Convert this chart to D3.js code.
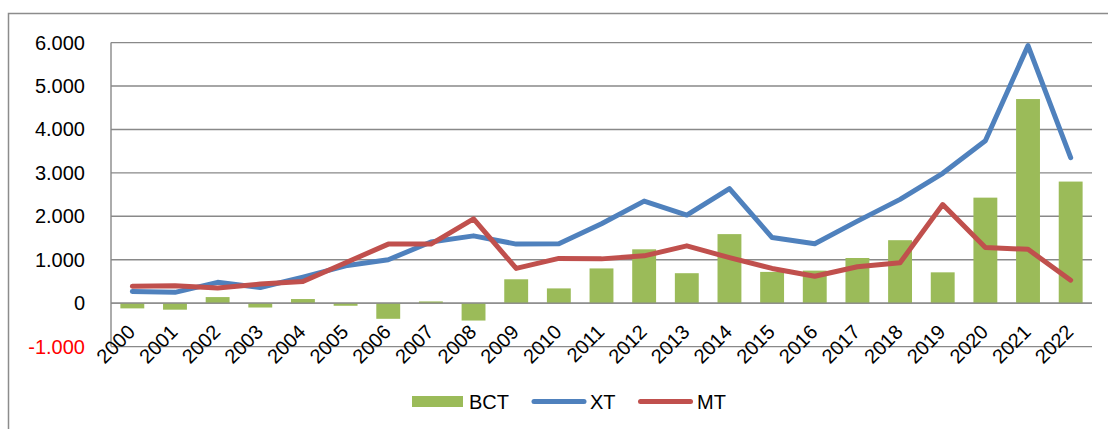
<!DOCTYPE html>
<html>
<head>
<meta charset="utf-8">
<script src="https://cdn.jsdelivr.net/npm/d3@7"></script>
<style>
  html, body { margin: 0; padding: 0; background: #fff; }
  svg { display: block; font-family: "Liberation Sans", Arial, sans-serif; }
</style>
</head>
<body>
<svg id="chart" width="1108" height="429"></svg>
<script>
const years = ["2000","2001","2002","2003","2004","2005","2006","2007","2008","2009","2010","2011","2012","2013","2014","2015","2016","2017","2018","2019","2020","2021","2022"];
const BCT = [-120,-150,140,-100,95,-60,-360,40,-400,550,340,800,1240,690,1590,720,750,1040,1450,710,2430,4700,2800];
const XT = [270,250,480,360,600,860,1000,1410,1550,1360,1370,1830,2350,2030,2640,1510,1370,1890,2390,2990,3740,5930,3350];
const MT = [390,400,350,440,500,930,1360,1360,1940,800,1030,1020,1090,1320,1050,800,620,840,930,2270,1280,1240,530];
const yTicks = [-1000,0,1000,2000,3000,4000,5000,6000];
const seriesNames = ["BCT","XT","MT"];
const colors = { BCT: "#9BBB59", XT: "#4F81BD", MT: "#C0504D" };

(function () {
const svg = d3.select("#chart");
const pLeft = 111, pRight = 1092, pTop = 42.6, pBottom = 346.6;

// outer chart border (right/bottom edges run off the picture)
svg.append("rect").attr("x", 8.5).attr("y", 13.5).attr("width", 1130).attr("height", 440)
  .attr("fill", "none").attr("stroke", "#8c8c8c").attr("stroke-width", 1.5);

const x = d3.scaleBand().domain(years).range([pLeft, pRight]).paddingInner(0.44).paddingOuter(0.22);
const cx = d => x(d) + x.bandwidth() / 2;
const y = d3.scaleLinear().domain([-1000, 6000]).range([pBottom, pTop]);

const loc = d3.formatLocale({ decimal: ",", thousands: ".", grouping: [3], currency: ["", ""], minus: "-" });
const fmt = loc.format(",d");

// gridlines
svg.append("g").selectAll("line").data(yTicks).join("line")
  .attr("x1", pLeft).attr("x2", pRight)
  .attr("y1", d => y(d)).attr("y2", d => y(d))
  .attr("stroke", "#898989").attr("stroke-width", 1.4);

// y-axis line
svg.append("line").attr("x1", pLeft).attr("x2", pLeft).attr("y1", y(6000)).attr("y2", y(-1000))
  .attr("stroke", "#898989").attr("stroke-width", 1.4);

// y labels
svg.append("g").selectAll("text").data(yTicks).join("text")
  .attr("x", 85).attr("y", d => y(d)).attr("dy", "0.35em")
  .attr("text-anchor", "end").attr("font-size", 20)
  .attr("fill", d => d < 0 ? "#FF0000" : "#000")
  .text(d => fmt(d));

// bars
svg.append("g").selectAll("rect").data(years).join("rect")
  .attr("x", d => x(d)).attr("width", x.bandwidth())
  .attr("y", (d, i) => y(Math.max(0, BCT[i])))
  .attr("height", (d, i) => Math.abs(y(BCT[i]) - y(0)))
  .attr("fill", colors.BCT);

// zero line on top of bars
svg.append("line").attr("x1", pLeft).attr("x2", pRight).attr("y1", y(0)).attr("y2", y(0))
  .attr("stroke", "#898989").attr("stroke-width", 1.4);

// lines
const line = d3.line().x((d, i) => cx(years[i])).y(d => y(d));
[["XT", XT], ["MT", MT]].forEach(([name, vals]) => {
  svg.append("path").datum(vals).attr("d", line)
    .attr("fill", "none").attr("stroke", colors[name]).attr("stroke-width", 5)
    .attr("stroke-linejoin", "round").attr("stroke-linecap", "round");
});

// x labels
svg.append("g").selectAll("text").data(years).join("text")
  .attr("transform", d => `translate(${cx(d) + 4},${y(0) + 30}) rotate(-45)`)
  .attr("text-anchor", "end").attr("font-size", 20).attr("fill", "#000")
  .text(d => d);

// legend
const lg = svg.append("g");
lg.append("rect").attr("x", 412).attr("y", 396).attr("width", 51).attr("height", 11).attr("fill", colors.BCT);
lg.append("text").attr("x", 469).attr("y", 409).attr("font-size", 20).text(seriesNames[0]);
lg.append("line").attr("x1", 534).attr("x2", 584).attr("y1", 401.5).attr("y2", 401.5)
  .attr("stroke", colors.XT).attr("stroke-width", 5).attr("stroke-linecap", "round");
lg.append("text").attr("x", 590).attr("y", 409).attr("font-size", 20).text(seriesNames[1]);
lg.append("line").attr("x1", 640.5).attr("x2", 690.5).attr("y1", 401.5).attr("y2", 401.5)
  .attr("stroke", colors.MT).attr("stroke-width", 5).attr("stroke-linecap", "round");
lg.append("text").attr("x", 697).attr("y", 409).attr("font-size", 20).text(seriesNames[2]);
})();
</script>
</body>
</html>
